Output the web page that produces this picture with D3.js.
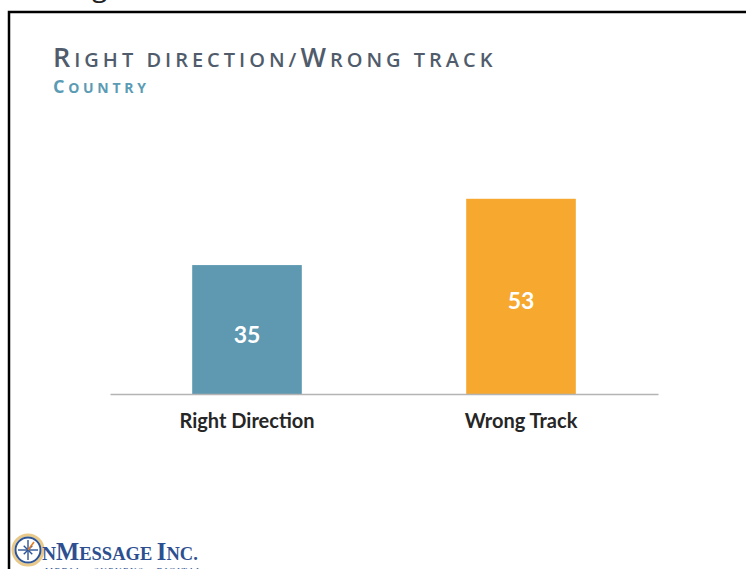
<!DOCTYPE html>
<html lang="en">
<head>
    <meta charset="UTF-8">
    <title>Right direction/Wrong track</title>
    <script src="https://d3js.org/d3.v7.min.js"></script>
    <style>
        body { margin: 0; background: #fff; font-family: Lato, "Open Sans", sans-serif; }
        svg { display: block; }
    </style>
</head>
<body>
    <svg width="746" height="569"></svg>

    <script>
        // data
        const categories = ["Right Direction", "Wrong Track"];
        const values = [35, 53];
        const barColors = ["#5e98b1", "#f6a82f"];

        const W = 746, H = 569;
        const svg = d3.select("svg");

        // slide frame (runs off right/bottom edge)
        svg.append("rect")
            .attr("x", 9).attr("y", 12)
            .attr("width", 760).attr("height", 600)
            .attr("fill", "none").attr("stroke", "#000").attr("stroke-width", 2.5);

        // descender of text above the frame
        svg.append("text")
            .attr("x", 92).attr("y", -4)
            .attr("font-family", "Open Sans").attr("font-size", 28)
            .attr("fill", "#222").text("g");

        // title in small caps
        const title = svg.append("text")
            .attr("x", 53).attr("y", 67)
            .attr("font-family", "Open Sans")
            .attr("fill", "#505c6b").attr("font-weight", 600)
            .attr("letter-spacing", "4px");
        [["R", 27], ["IGHT DIRECTION/", 20], ["W", 27], ["RONG TRACK", 20]].forEach(([t, s]) =>
            title.append("tspan").attr("font-size", s).text(t));

        const sub = svg.append("text")
            .attr("x", 53).attr("y", 93)
            .attr("font-family", "Open Sans")
            .attr("fill", "#5b9bb4").attr("font-weight", 700)
            .attr("letter-spacing", "3.7px");
        [["C", 18], ["OUNTRY", 14]].forEach(([t, s]) =>
            sub.append("tspan").attr("font-size", s).text(t));

        // chart area
        const margin = { left: 110, right: 88, top: 173, bottom: 175 };
        const width = W - margin.left - margin.right;
        const height = H - margin.top - margin.bottom;
        const g = svg.append("g").attr("transform", `translate(${margin.left},${margin.top})`);

        const x = d3.scaleBand()
            .domain(categories)
            .range([0, width])
            .paddingInner(0.6)
            .paddingOuter(0.3);

        const y = d3.scaleLinear()
            .domain([0, 60])
            .range([height, 0]);

        g.selectAll(".bar")
            .data(categories)
            .enter().append("rect")
            .attr("class", "bar")
            .attr("x", d => x(d))
            .attr("y", (d, i) => y(values[i]))
            .attr("width", x.bandwidth())
            .attr("height", (d, i) => height - y(values[i]))
            .attr("fill", (d, i) => barColors[i]);

        // value labels
        g.selectAll(".val")
            .data(categories)
            .enter().append("text")
            .attr("class", "val")
            .attr("x", d => x(d) + x.bandwidth() / 2)
            .attr("y", (d, i) => (y(values[i]) + height) / 2 + 13)
            .attr("text-anchor", "middle")
            .attr("fill", "#fff").attr("font-size", 23).attr("font-weight", 700)
            .text((d, i) => values[i]);

        // axis
        const axis = g.append("g")
            .attr("transform", `translate(0,${height})`)
            .call(d3.axisBottom(x).tickSize(0).tickPadding(20));
        axis.select(".domain").attr("stroke", "#b4b4b4").attr("stroke-width", 1.3);
        axis.selectAll("text")
            .attr("font-family", "Lato").attr("font-size", 20)
            .attr("font-weight", 700).attr("fill", "#262626");

        // logo
        const logo = svg.append("g").attr("transform", "translate(28,550)");
        logo.append("circle").attr("r", 15).attr("fill", "none")
            .attr("stroke", "#e9c98a").attr("stroke-width", 3);
        logo.append("circle").attr("r", 12.5).attr("fill", "none")
            .attr("stroke", "#2c5597").attr("stroke-width", 2);
        d3.range(8).forEach(i => {
            const a = i * Math.PI / 4, r = i % 2 ? 6 : 10;
            logo.append("line")
                .attr("x1", 0).attr("y1", 0)
                .attr("x2", r * Math.cos(a)).attr("y2", r * Math.sin(a))
                .attr("stroke", "#2c5597").attr("stroke-width", 1.4);
        });
        logo.append("line").attr("x1", 0).attr("y1", 0).attr("x2", 6).attr("y2", -8)
            .attr("stroke", "#e07a24").attr("stroke-width", 1.6);

        const brand = svg.append("text")
            .attr("x", 42).attr("y", 560)
            .attr("font-family", "Liberation Serif").attr("font-weight", 700)
            .attr("fill", "#2d4f90");
        [["N", 19.5], ["M", 24.5], ["ESSAGE ", 18.5], ["I", 24.5], ["NC.", 18.5]].forEach(([t, s]) =>
            brand.append("tspan").attr("font-size", s).text(t));

        const tag = svg.append("text")
            .attr("x", 45).attr("y", 574)
            .attr("font-family", "Liberation Serif").attr("font-size", 9)
            .attr("letter-spacing", "1.5px").attr("fill", "#2d4f90");
        ["MEDIA ", "• ", "SURVEYS ", "• ", "DIGITAL"].forEach(t =>
            tag.append("tspan").attr("fill", t === "• " ? "#e07a24" : "#2d4f90").text(t));
    </script>
</body>
</html>
